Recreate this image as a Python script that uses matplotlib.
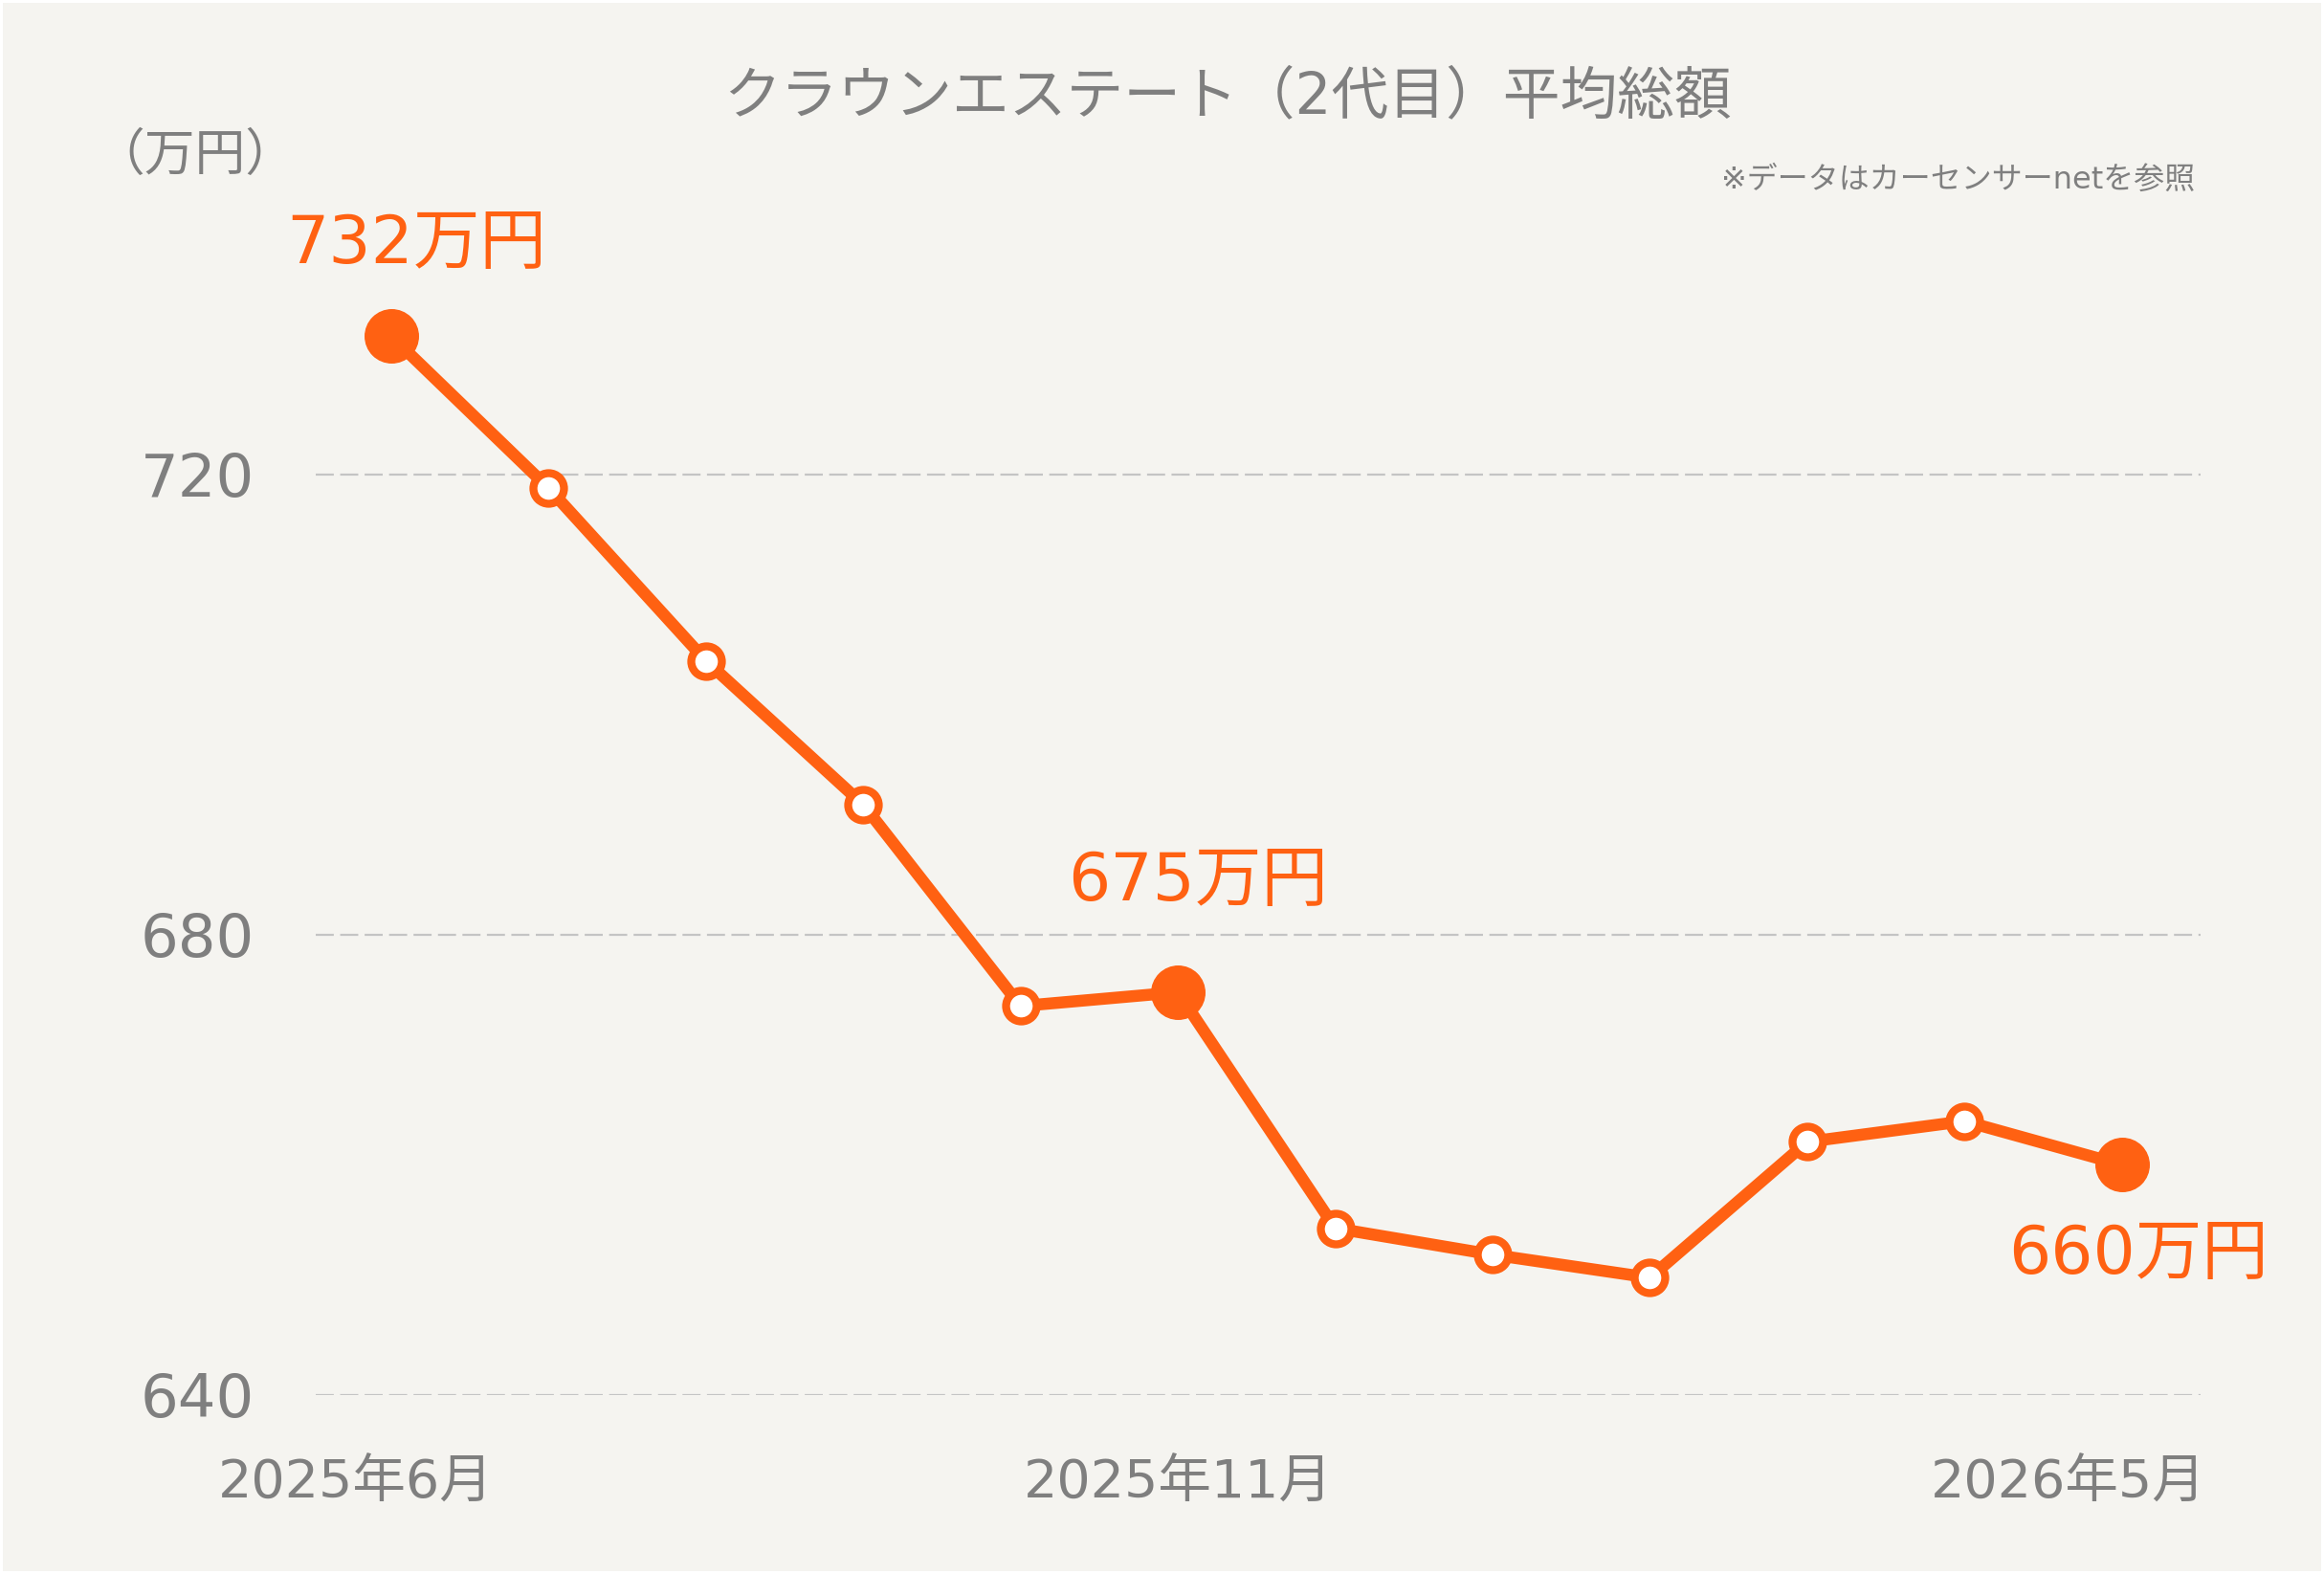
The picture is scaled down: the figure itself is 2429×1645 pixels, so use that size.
import matplotlib
matplotlib.use("Agg")
import matplotlib.pyplot as plt
import matplotlib.transforms as mtransforms
from matplotlib.patches import Rectangle

plt.rcParams['font.family'] = ['DejaVu Sans', 'Noto Sans CJK JP']

# ---- data ----
months = ["2025年6月", "2025年7月", "2025年8月", "2025年9月", "2025年10月", "2025年11月",
          "2025年12月", "2026年1月", "2026年2月", "2026年3月", "2026年4月", "2026年5月"]
values = [732, 718.8, 703.8, 691.3, 673.8, 675, 654.5, 652.2, 650.2, 662.0, 663.8, 660]
highlight_idx = [0, 5, 11]
highlight_labels = ["732万円", "675万円", "660万円"]
xtick_idx = [0, 5, 11]
xtick_labels = ["2025年6月", "2025年11月", "2026年5月"]
yticks = [640, 680, 720]

title = "クラウンエステート（2代目）平均総額"
unit_label = "（万円）"
note = "※データはカーセンサーnetを参照"

ORANGE = "#FF6112"
GRAY = "#7F7F7F"
BG = "#F5F4F0"

W, H = 2429, 1645
DPI = 100
fig = plt.figure(figsize=(W / DPI, H / DPI), dpi=DPI, facecolor="white")
fig.patches.append(Rectangle((3 / W, 3 / H), 1 - 6 / W, 1 - 6 / H, transform=fig.transFigure,
                             facecolor=BG, edgecolor="none", zorder=-10))

ax_left, ax_right = 330, 2300
ax_bottom = 1458
ax_top = 195
ax = fig.add_axes([ax_left / W, 1 - ax_bottom / H, (ax_right - ax_left) / W, (ax_bottom - ax_top) / H])
ax.set_facecolor("none")

x = list(range(len(values)))
ax.plot(x, values, color=ORANGE, lw=9, solid_joinstyle="round", solid_capstyle="round", zorder=3)
small = [i for i in x if i not in highlight_idx]
ax.plot(small, [values[i] for i in small], ls="none", marker="o", markersize=23,
        markerfacecolor="white", markeredgecolor=ORANGE, markeredgewidth=6, zorder=4)
ax.plot(highlight_idx, [values[i] for i in highlight_idx], ls="none", marker="o", markersize=40,
        markerfacecolor=ORANGE, markeredgecolor=ORANGE, zorder=5)

offsets = [(26, 96), (21, 115), (17, -94)]
for i, lab, (dx, dy) in zip(highlight_idx, highlight_labels, offsets):
    ax.annotate(lab, (i, values[i]), xytext=(dx, dy), textcoords="offset pixels",
                ha="center", va="center", fontsize=50, color=ORANGE, zorder=6)

ax.set_xlim(-0.48, 11.50)
ax.set_ylim(640, 745)
ax.set_yticks(yticks)
ax.set_yticklabels([str(v) for v in yticks])
ax.grid(axis="y", color="#C4C4C4", lw=1.6, dashes=(8.5, 3))
ax.set_axisbelow(True)
for s in ax.spines.values():
    s.set_visible(False)
ax.tick_params(axis="both", length=0, colors=GRAY)
ax.tick_params(axis="y", labelsize=45, pad=46)
ax.tick_params(axis="x", labelsize=40, pad=47)
ax.set_xticks(xtick_idx)
ax.set_xticklabels(xtick_labels)
for lbl in ax.get_yticklabels():
    lbl.set_color(GRAY)
xshift = [-37, 0, -56]
for lbl, dxp in zip(ax.get_xticklabels(), xshift):
    lbl.set_color(GRAY)
    lbl.set_transform(lbl.get_transform() + mtransforms.ScaledTranslation(dxp / DPI, 0, fig.dpi_scale_trans))

fig.text(1283 / W, 1 - 102 / H, title, ha="center", va="center", fontsize=43, color=GRAY)
fig.text(204 / W, 1 - 163 / H, unit_label, ha="center", va="center", fontsize=38, color=GRAY)
fig.text(2294 / W, 1 - 188 / H, note, ha="right", va="center", fontsize=23, color=GRAY)

fig.savefig("out.png", dpi=DPI, facecolor=fig.get_facecolor())
